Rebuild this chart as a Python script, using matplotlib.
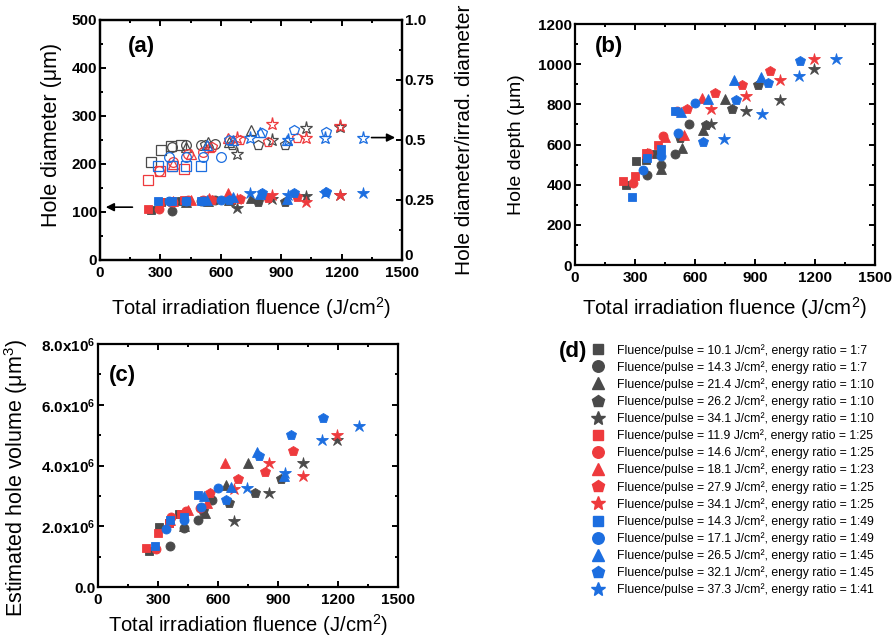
import matplotlib
matplotlib.use('Agg')
import matplotlib.pyplot as plt
from matplotlib.lines import Line2D

plt.rcParams['font.family'] = ['Liberation Sans', 'DejaVu Sans']
plt.rcParams['mathtext.default'] = 'regular'

# series order: dark gray (1:7 / 1:10), red (1:25), blue (1:49 / 1:45)
fpp = ['10.1', '14.3', '21.4', '26.2', '34.1',
       '11.9', '14.6', '18.1', '27.9', '34.1',
       '14.3', '17.1', '26.5', '32.1', '37.3']
ratio = ['1:7', '1:7', '1:10', '1:10', '1:10',
         '1:25', '1:25', '1:23', '1:25', '1:25',
         '1:49', '1:49', '1:45', '1:45', '1:41']

# total irradiation fluence (J/cm2)
fluence = [
    [253, 303, 354, 404], [358, 429, 500, 572], [428, 535, 642, 749],
    [524, 655, 786, 917], [682, 853, 1023, 1194],
    [238, 298, 357, 417], [292, 365, 438, 511], [362, 452, 543, 634],
    [558, 698, 837, 977], [682, 853, 1023, 1194],
    [286, 358, 429, 500], [342, 428, 513, 599], [530, 663, 795, 928],
    [642, 803, 963, 1124], [746, 933, 1119, 1306],
]

# (a) hole diameter (um), filled markers
diameter = [
    [104, 121, 122, 123], [103, 122, 123, 125], [121, 123, 125, 130],
    [122, 124, 121, 121], [108, 128, 134, 135],
    [106, 120, 122, 124], [107, 121, 124, 125], [122, 125, 130, 139],
    [124, 127, 130, 132], [126, 135, 121, 135],
    [122, 122, 122, 123], [122, 123, 123, 124], [125, 132, 137, 128],
    [125, 139, 139, 142], [139, 135, 139, 139],
]

# (a) hole diameter / irradiation diameter, open markers
diam_ratio = [
    [0.41, 0.46, 0.475, 0.48], [0.47, 0.48, 0.48, 0.483], [0.47, 0.49, 0.49, 0.54],
    [0.48, 0.48, 0.48, 0.48], [0.44, 0.50, 0.55, 0.555],
    [0.333, 0.37, 0.39, 0.38], [0.37, 0.41, 0.44, 0.45], [0.40, 0.44, 0.47, 0.51],
    [0.47, 0.50, 0.49, 0.51], [0.51, 0.565, 0.51, 0.56],
    [0.39, 0.39, 0.39, 0.39], [0.43, 0.43, 0.43, 0.43], [0.48, 0.50, 0.535, 0.50],
    [0.50, 0.53, 0.54, 0.535], [0.51, 0.50, 0.51, 0.51],
]

# (b) hole depth (um)
depth = [
    [400, 520, 525, 553], [448, 500, 553, 703], [478, 583, 673, 828],
    [632, 695, 775, 895], [703, 765, 823, 978],
    [420, 445, 560, 600], [407, 557, 640, 765], [560, 637, 645, 833],
    [775, 857, 898, 965], [778, 842, 923, 1028],
    [337, 532, 578, 765], [473, 545, 657, 808], [762, 828, 920, 937],
    [612, 820, 907, 1017], [628, 753, 942, 1028],
]

# (c) estimated hole volume (1e6 um3)
volume = [
    [1.19, 1.98, 2.10, 2.41], [1.34, 1.95, 2.21, 2.86], [2.00, 2.42, 3.35, 4.07],
    [2.50, 2.77, 3.11, 3.57], [2.18, 3.08, 4.07, 4.83],
    [1.30, 1.78, 2.10, 2.40], [1.26, 2.31, 2.50, 2.60], [2.20, 2.55, 2.75, 4.07],
    [3.10, 3.57, 3.79, 4.47], [3.24, 4.09, 3.65, 5.00],
    [1.34, 2.20, 2.31, 3.02], [1.92, 2.20, 2.64, 3.26], [3.00, 3.30, 4.45, 3.65],
    [2.88, 4.31, 5.00, 5.57], [3.26, 3.74, 4.83, 5.30],
]

gray, red, blue = '#4a4a4a', '#ee3a3d', '#1c6ee0'
colors = [gray] * 5 + [red] * 5 + [blue] * 5
markers = ['s', 'o', '^', 'p', '*'] * 3
msize = {'s': 6.0, 'o': 6.5, '^': 6.8, 'p': 7.0, '*': 9.0}
lsize = {'s': 7.5, 'o': 8.3, '^': 8.8, 'p': 8.8, '*': 10.5}


def style(ax, xt, xm, yt, ylabels, ym, right=True):
    ax.set_xlim(0, 1500)
    ax.set_xticks(xt)
    ax.set_xticklabels([str(v) for v in xt], fontweight='bold', fontsize=11)
    ax.set_xticks(xm, minor=True)
    ax.set_yticks(yt)
    ax.set_yticklabels(ylabels, fontweight='bold', fontsize=11)
    ax.set_yticks(ym, minor=True)
    ax.tick_params(which='both', direction='in', top=True, right=right, width=1.4)
    ax.tick_params(which='major', length=4)
    ax.tick_params(which='minor', length=2.5)
    ax.tick_params(axis='x', which='major', pad=4)
    ax.tick_params(axis='y', which='major', pad=2)
    for sp in ax.spines.values():
        sp.set_linewidth(1.6)


fig = plt.figure(figsize=(8.95, 6.4), dpi=100)
xt = [0, 300, 600, 900, 1200, 1500]
xm = [150, 450, 750, 1050, 1350]

# ---- (a)
ax_a = fig.add_axes([0.1117, 0.5938, 0.3374, 0.375])
ax_a2 = ax_a.twinx()
for i in range(15):
    ax_a.plot(fluence[i], diameter[i], ls='none', marker=markers[i], color=colors[i],
              ms=msize[markers[i]], mec=colors[i], mew=0.6)
    ax_a2.plot(fluence[i], diam_ratio[i], ls='none', marker=markers[i], mfc='none',
               mec=colors[i], ms=msize[markers[i]] + 0.5, mew=0.9)
ax_a.set_ylim(0, 500)
ax_a2.set_ylim(0, 1)
style(ax_a, xt, xm, [0, 100, 200, 300, 400, 500], ['0', '100', '200', '300', '400', '500'],
      [50, 150, 250, 350, 450], right=False)
ax_a2.set_yticks([0, 0.25, 0.5, 0.75, 1.0])
ax_a2.set_yticklabels(['0', '0.25', '0.5', '0.75', '1.0'], fontweight='bold', fontsize=11)
ax_a2.set_yticks([0.125, 0.375, 0.625, 0.875], minor=True)
ax_a2.tick_params(which='both', direction='in', width=1.4, pad=2)
ax_a2.tick_params(which='major', length=4)
ax_a2.tick_params(which='minor', length=2.5)
ax_a2.get_yticklabels()[0].set_verticalalignment('baseline')
for sp in ax_a2.spines.values():
    sp.set_linewidth(1.6)
ax_a.annotate('', xy=(15, 110), xytext=(175, 110),
              arrowprops=dict(arrowstyle='-|>', color='k', lw=1.2, mutation_scale=12))
ax_a2.annotate('', xy=(1480, 0.51), xytext=(1335, 0.51),
               arrowprops=dict(arrowstyle='-|>', color='k', lw=1.2, mutation_scale=12))
ax_a.set_ylabel('Hole diameter (μm)', fontsize=15.5)
ax_a.yaxis.set_label_coords(-0.125, 0.52)
ax_a2.set_ylabel('Hole diameter/irrad. diameter', fontsize=15)
ax_a2.yaxis.set_label_coords(1.175, 0.5)
ax_a.set_xlabel('Total irradiation fluence (J/cm$^2$)', fontsize=14.5)
ax_a.xaxis.set_label_coords(0.5, -0.145)
ax_a.text(0.136, 0.888, '(a)', transform=ax_a.transAxes, fontsize=16,
          fontweight='bold', ha='center', va='center')

# ---- (b)
ax_b = fig.add_axes([0.6425, 0.5859, 0.3352, 0.3766])
for i in range(15):
    ax_b.plot(fluence[i], depth[i], ls='none', marker=markers[i], color=colors[i],
              ms=msize[markers[i]], mec=colors[i], mew=0.6)
ax_b.set_ylim(0, 1200)
style(ax_b, xt, xm, [0, 200, 400, 600, 800, 1000, 1200],
      ['0', '200', '400', '600', '800', '1000', '1200'],
      [100, 300, 500, 700, 900, 1100])
ax_b.set_ylabel('Hole depth (μm)', fontsize=14)
ax_b.yaxis.set_label_coords(-0.167, 0.5)
ax_b.set_xlabel('Total irradiation fluence (J/cm$^2$)', fontsize=14.8)
ax_b.xaxis.set_label_coords(0.5, -0.124)
ax_b.text(0.113, 0.905, '(b)', transform=ax_b.transAxes, fontsize=16,
          fontweight='bold', ha='center', va='center')

# ---- (c)
ax_c = fig.add_axes([0.1095, 0.0828, 0.3352, 0.3797])
for i in range(15):
    ax_c.plot(fluence[i], [v * 1e6 for v in volume[i]], ls='none', marker=markers[i],
              color=colors[i], ms=msize[markers[i]], mec=colors[i], mew=0.6)
ax_c.set_ylim(0, 8e6)
style(ax_c, xt, xm, [0, 2e6, 4e6, 6e6, 8e6],
      ['0.0', '2.0x10$^6$', '4.0x10$^6$', '6.0x10$^6$', '8.0x10$^6$'],
      [1e6, 3e6, 5e6, 7e6])
ax_c.set_ylabel('Estimated hole volume (μm$^3$)', fontsize=15.5)
ax_c.yaxis.set_label_coords(-0.227, 0.45)
ax_c.set_xlabel('Total irradiation fluence (J/cm$^2$)', fontsize=14.5)
ax_c.xaxis.set_label_coords(0.5, -0.103)
ax_c.text(0.08, 0.872, '(c)', transform=ax_c.transAxes, fontsize=16,
          fontweight='bold', ha='center', va='center')

# ---- (d) legend
handles = [Line2D([], [], ls='none', marker=markers[i], color=colors[i],
                  ms=lsize[markers[i]]) for i in range(15)]
labels = ['Fluence/pulse = %s J/cm², energy ratio = %s' % (fpp[i], ratio[i])
          for i in range(15)]
fig.legend(handles, labels, loc='upper left', bbox_to_anchor=(0.662, 0.463),
           frameon=False, fontsize=8.85, borderpad=0, borderaxespad=0,
           handlelength=0.9, handletextpad=1.1, labelspacing=0.35, numpoints=1)
fig.text(0.640, 0.45, '(d)', fontsize=16, fontweight='bold', ha='center', va='center')

fig.savefig('out.png', dpi=100)
